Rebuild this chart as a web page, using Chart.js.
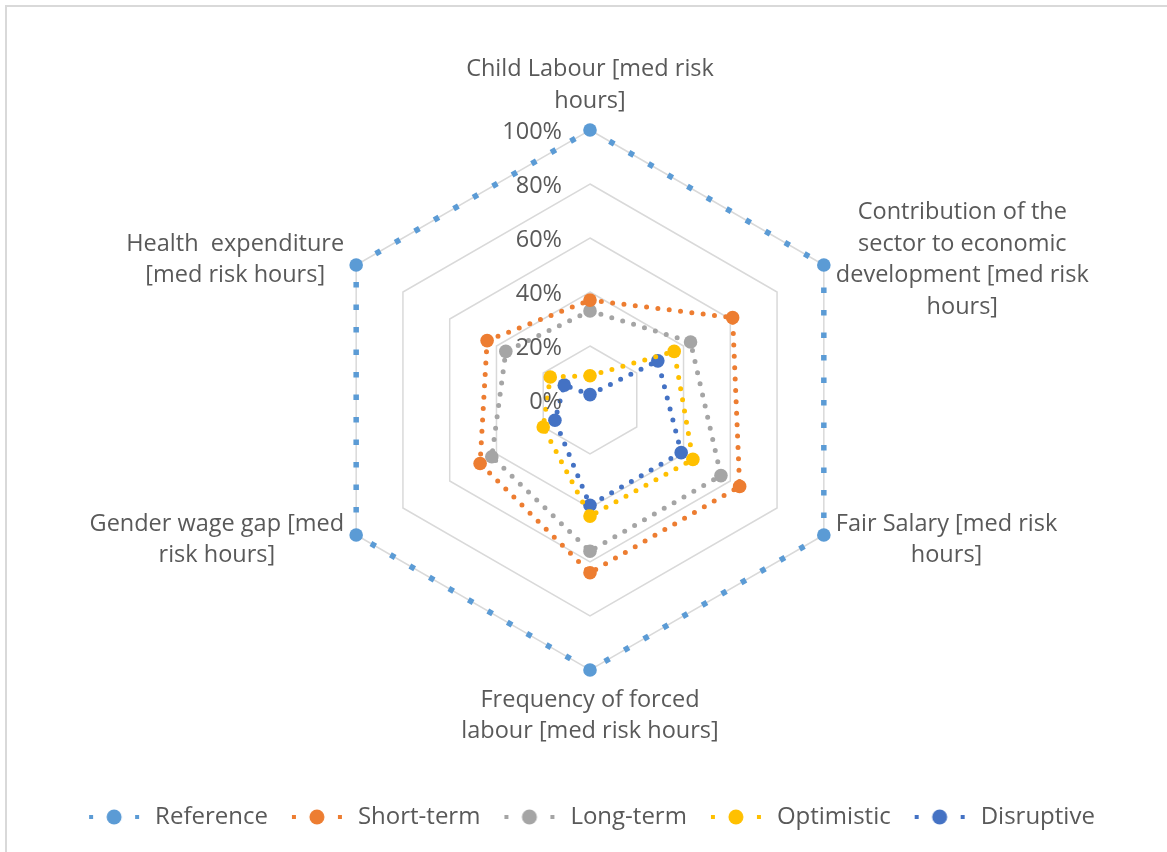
<!DOCTYPE html>
<html>
<head>
<meta charset="utf-8">
<script src="https://cdn.jsdelivr.net/npm/chart.js@4/dist/chart.umd.min.js"></script>
<style>
  body{margin:0; background:#fff; overflow:hidden}
  #frame{position:absolute; left:5px; top:5px; width:1300px; height:1000px; border:2px solid #d9d9d9}
  #radarChart{position:absolute; left:0; top:0}
</style>
</head>
<body>
<div id="frame"></div>
<canvas id="radarChart" width="1167" height="852"></canvas>
<script>
const categories = [
    ['Child Labour [med risk', 'hours]'],
    ['Contribution of the', 'sector to economic', 'development [med risk', 'hours]'],
    ['Fair Salary [med risk', 'hours]'],
    ['Frequency of forced', 'labour [med risk hours]'],
    ['Gender wage gap [med', 'risk hours]'],
    ['Health  expenditure', '[med risk hours]']
]
const seriesNames = ['Reference', 'Short-term', 'Long-term', 'Optimistic', 'Disruptive']
const reference = [100, 100, 100, 100, 100, 100]
const shortTerm = [37, 61, 64, 64, 47, 44]
const longTerm = [33, 43, 56, 56, 42, 36]
const optimistic = [9, 36, 44, 43, 20, 17]
const disruptive = [2, 29, 39, 39, 15, 11]
const tickValues = [0, 20, 40, 60, 80, 100]

const colors = ['#5b9bd5', '#ed7d31', '#a5a5a5', '#ffc000', '#4472c4']
const textColor = '#595959'
const fontFamily = '"Open Sans", "Noto Sans", sans-serif'

function makeDataset(i, values){
    let square = i == 0
    return {
        label: seriesNames[i],
        data: values,
        borderColor: colors[i],
        backgroundColor: colors[i],
        borderWidth: square ? 5.5 : 5,
        borderDash: square ? [5.5, 17] : [0, 11.4],
        borderCapStyle: square ? 'butt' : 'round',
        fill: false,
        pointRadius: 6.8,
        pointBorderWidth: 0,
        pointBackgroundColor: colors[i]
    }
}

// little "dot - marker - dot" picture for the legend
function legendIcon(i){
    let c = document.createElement('canvas')
    c.width = 52
    c.height = 18
    let ctx = c.getContext('2d')
    ctx.fillStyle = colors[i]
    ctx.fillRect(1, 7, 4, 4)
    ctx.fillRect(47, 7, 4, 4)
    ctx.beginPath(); ctx.arc(26, 9, 7.5, 0, Math.PI*2); ctx.fill()
    return c
}

const radarText = {
    id: 'radarText',
    afterDatasetsDraw(chart){
        let scale = chart.scales.r
        let ctx = chart.ctx
        ctx.save()
        ctx.fillStyle = textColor
        ctx.font = '23.5px ' + fontFamily
        ctx.textBaseline = 'middle'

        // percent ticks to the left of the top spoke
        ctx.textAlign = 'right'
        tickValues.forEach((v)=>{
            let d = scale.getDistanceFromCenterForValue(v)
            ctx.fillText(v + '%', scale.xCenter - 28, scale.yCenter - d + 2)
        })

        // category labels, every line centred like excel does
        ctx.textAlign = 'center'
        let lineH = 31.5
        categories.forEach((lines, i)=>{
            let p = scale.getPointPosition(i, scale.drawingArea)
            let dx = p.x - scale.xCenter
            let dy = p.y - scale.yCenter
            let widest = Math.max(...lines.map(l => ctx.measureText(l).width))
            let cx, firstY
            if(Math.abs(dx) < 1){
                cx = p.x
                if(dy < 0){ firstY = p.y - 29 - (lines.length-1)*lineH }
                else { firstY = p.y + 30 }
            } else {
                let side = dx > 0 ? 1 : -1
                cx = p.x + side*(12 + widest/2)
                let mid = p.y + (dy > 0 ? 5 : -5)
                firstY = mid - (lines.length-1)*lineH/2
            }
            lines.forEach((l, k)=>{
                ctx.fillText(l, cx, firstY + k*lineH)
            })
        })
        ctx.restore()
    }
}

function renderRadarChart(){
    radarChart = new Chart(document.querySelector('#radarChart'), {
        type: 'radar',
        data: {
            labels: categories,
            datasets: [
                makeDataset(0, reference),
                makeDataset(1, shortTerm),
                makeDataset(2, longTerm),
                makeDataset(3, optimistic),
                makeDataset(4, disruptive)
            ]
        },
        options: {
            responsive: false,
            animation: false,
            devicePixelRatio: 1,
            layout: { padding: { left: 13, right: 0, top: 130, bottom: 13 } },
            scales: {
                r: {
                    min: 0,
                    max: 100,
                    ticks: { stepSize: 20, display: false },
                    grid: { color: '#d9d9d9', lineWidth: 1.5 },
                    angleLines: { display: false },
                    pointLabels: { display: false }
                }
            },
            plugins: {
                tooltip: { enabled: false },
                legend: {
                    position: 'bottom',
                    title: { display: true, text: '', font: { size: 10 }, padding: { top: 0, bottom: 103 } },
                    labels: {
                        usePointStyle: true,
                        pointStyleWidth: 58,
                        padding: 20,
                        color: textColor,
                        font: { size: 24, family: fontFamily },
                        generateLabels(chart){
                            let items = Chart.defaults.plugins.legend.labels.generateLabels(chart)
                            items.forEach((item, i)=>{ item.pointStyle = legendIcon(i) })
                            return items
                        }
                    }
                }
            }
        },
        plugins: [radarText]
    })
}

renderRadarChart()
</script>
</body>
</html>
